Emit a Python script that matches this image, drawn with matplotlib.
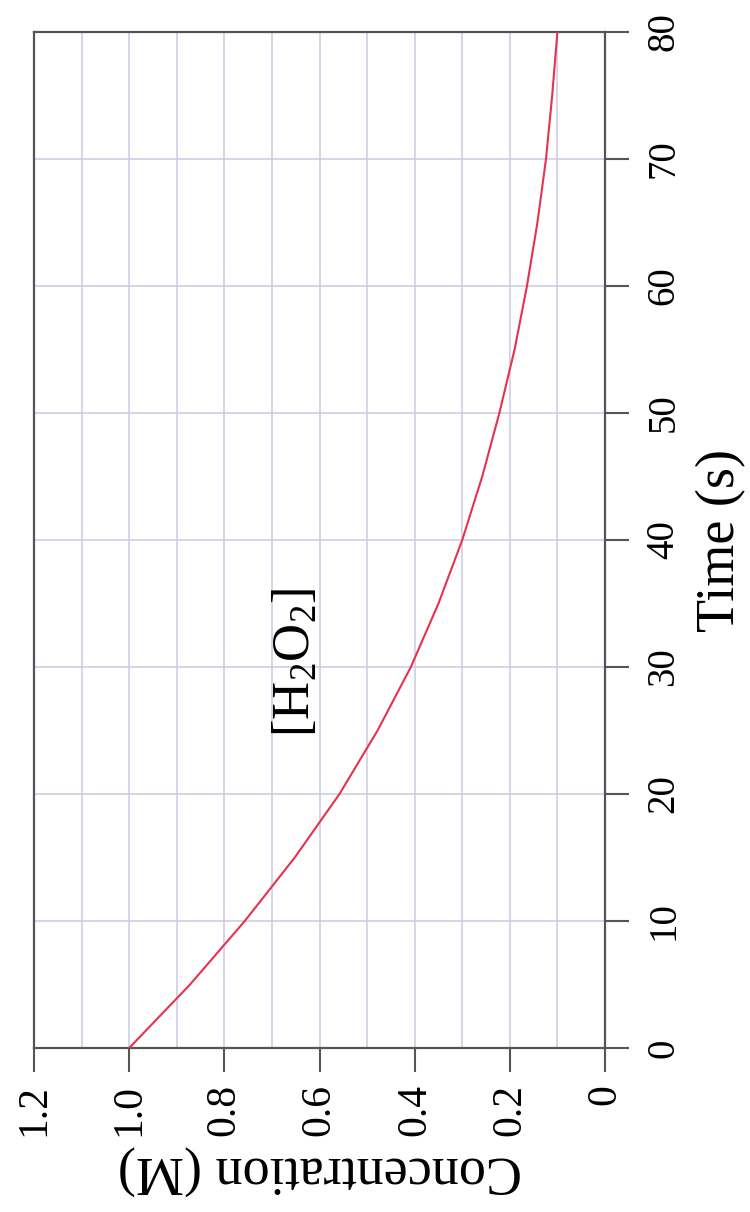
import numpy as np
import matplotlib
matplotlib.use('Agg')
import matplotlib.pyplot as plt
from matplotlib.ticker import MultipleLocator

plt.rcParams['font.family'] = ['Liberation Serif', 'DejaVu Serif']
plt.rcParams['mathtext.default'] = 'regular'

# 그래프가 90도 회전된 모양 : 시간축은 세로(오른쪽), 농도축은 가로(아래, 뒤집힘)
time_s = [0, 5, 10, 15, 20, 25, 30, 35, 40, 45, 50, 55, 60, 65, 70, 75, 80]
conc_h2o2 = [1.000, 0.872, 0.757, 0.652, 0.558, 0.478, 0.408, 0.350, 0.300,
             0.258, 0.222, 0.190, 0.164, 0.142, 0.124, 0.111, 0.100]

time_ticks = [0, 10, 20, 30, 40, 50, 60, 70, 80]
conc_ticks = [1.2, 1.0, 0.8, 0.6, 0.4, 0.2, 0]
conc_labels = ['1.2', '1.0', '0.8', '0.6', '0.4', '0.2', '0']

fig = plt.figure(figsize=(7.5, 12.12), dpi=100)
ax = fig.add_axes([34 / 750, 164 / 1212, 571 / 750, 1016 / 1212])

ax.plot(conc_h2o2, time_s, color='#e6324f', lw=1.5, zorder=3,
        solid_joinstyle='round')

ax.set_xlim(1.2, 0)
ax.set_ylim(0, 80)

ax.set_xticks(conc_ticks)
ax.set_xticklabels(conc_labels)
ax.xaxis.set_minor_locator(MultipleLocator(0.1))
ax.set_yticks(time_ticks)
ax.yaxis.tick_right()
ax.yaxis.set_label_position('right')

ax.grid(True, which='both', axis='x', color='#cacae6', lw=1.1)
ax.grid(True, which='major', axis='y', color='#cacae6', lw=1.1)
ax.set_axisbelow(True)

for s in ax.spines.values():
    s.set_color('#555555')
    s.set_linewidth(1.6)

ax.tick_params(axis='x', which='major', length=17, width=1.5, color='#555555',
               pad=9, labelsize=30, labelrotation=90)
ax.tick_params(axis='x', which='minor', length=0)
ax.tick_params(axis='y', length=17, width=1.5, color='#555555',
               pad=12, labelsize=28, labelrotation=90)
for lab in ax.get_yticklabels():
    lab.set_verticalalignment('center')

ax.set_xlabel('Concentration (M)', fontsize=39, rotation=180, labelpad=6)
ax.set_ylabel('Time (s)', fontsize=39, rotation=90, labelpad=10)

ax.text(0.647, 30.4, '[H$_2$O$_2$]', fontsize=38, rotation=90,
        ha='center', va='center')

fig.savefig('out.png', dpi=100)
